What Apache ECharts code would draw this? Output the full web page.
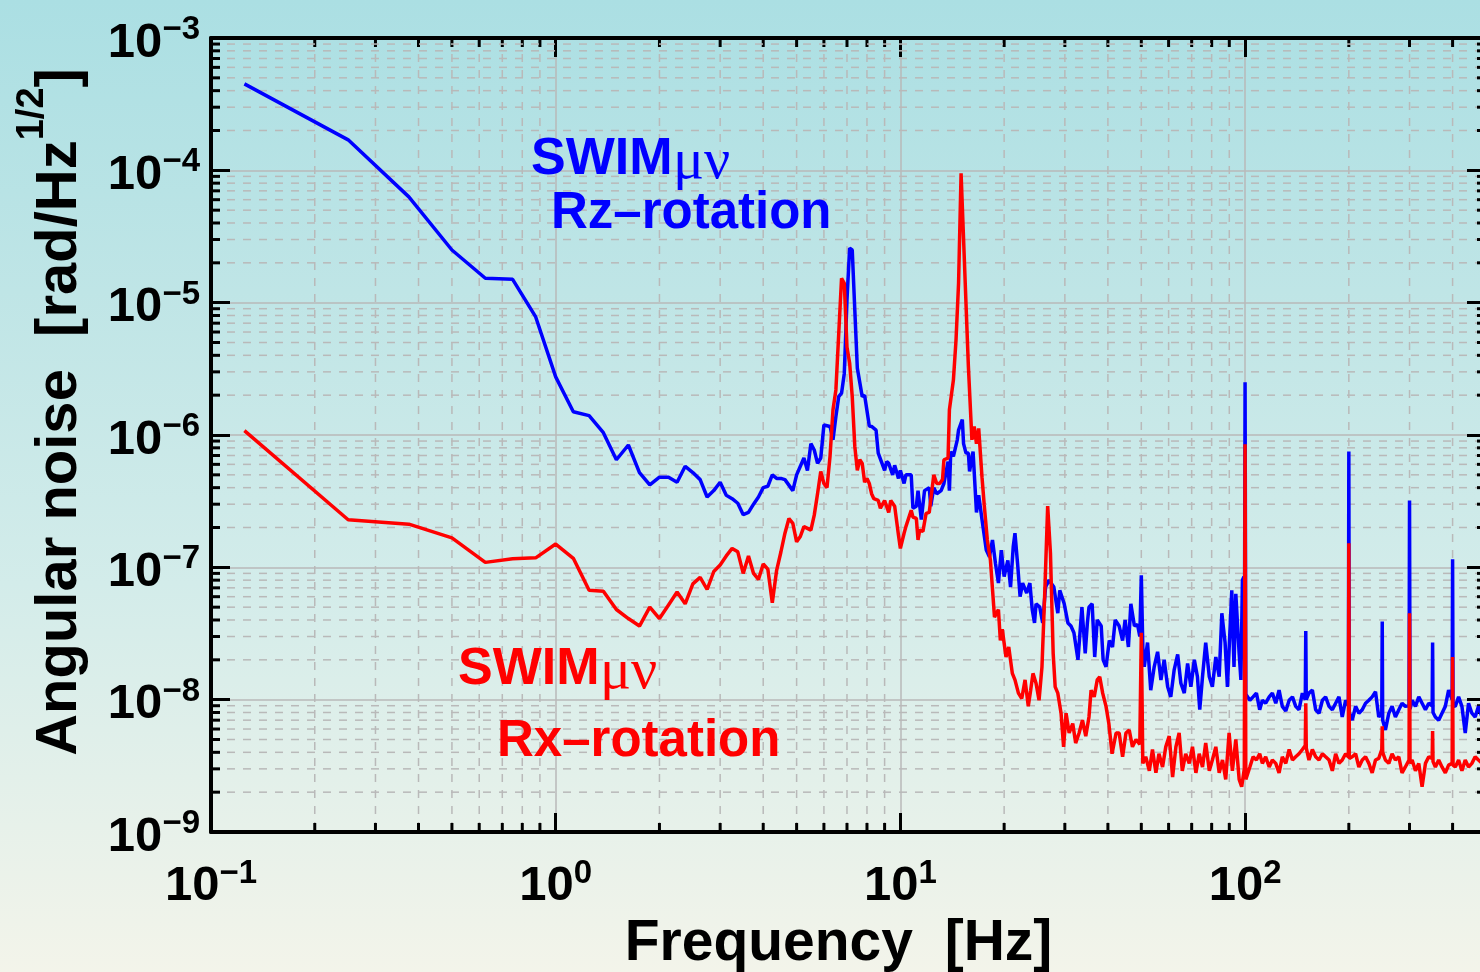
<!DOCTYPE html>
<html>
<head>
<meta charset="utf-8">
<script src="https://cdn.jsdelivr.net/npm/echarts@6/dist/echarts.min.js"></script>
<style>
html,body{margin:0;padding:0;}
#chart{width:1480px;height:972px;background:linear-gradient(180deg,#abdfe3 0%,#bfe5e6 30%,#d3ecea 60%,#f3f4ea 100%);}
</style>
</head>
<body>
<div id="chart"></div>
<script>
// ---- data (frequency [Hz], angular noise [rad/Hz^1/2]) ----
const rzRotation = [
[0.125,4.5e-4],[0.25,1.7e-4],[0.375,6.3e-5],[0.5,2.5e-5],[0.625,1.53e-5],[0.75,1.5e-5],[0.875,7.8e-6],[1.0,2.75e-6],
[1.125,1.5e-6],[1.25,1.4e-6],[1.375,1.04e-6],[1.5,6.5e-7],[1.625,8.4e-7],[1.75,5.2e-7],[1.875,4.2e-7],[2.0,4.8e-7],
[2.125,4.8e-7],[2.25,4.4e-7],[2.375,5.8e-7],[2.5,5.2e-7],[2.625,4.6e-7],[2.75,3.4e-7],[2.875,3.8e-7],[3.0,4.4e-7],
[3.125,3.5e-7],[3.25,3.3e-7],[3.375,3.05e-7],[3.5,2.5e-7],[3.625,2.6e-7],[3.75,3.0e-7],[3.875,3.4e-7],[4.0,4.0e-7],
[4.125,4.1e-7],[4.25,5.0e-7],[4.375,4.7e-7],[4.5,4.7e-7],[4.625,4.6e-7],[4.875,3.8e-7],[5.0,5.0e-7],[5.25,6.7e-7],
[5.375,5.4e-7],[5.5,8.6e-7],[5.625,7.7e-7],[5.75,6.1e-7],[5.875,6.7e-7],[6.0,1.19e-6],[6.25,1.16e-6],[6.375,9.2e-7],
[6.5,1.38e-6],[6.625,1.95e-6],[6.75,2.07e-6],[6.875,2.92e-6],[7.0,1.05e-5],[7.125,2.58e-5],[7.25,2.5e-5],[7.375,8.8e-6],
[7.5,3.2e-6],[7.75,1.95e-6],[7.875,2.0e-6],[8.125,1.17e-6],[8.25,1.16e-6],[8.5,1.09e-6],[8.625,7.3e-7],[9.0,5.4e-7],
[9.125,6.3e-7],[9.25,6.1e-7],[9.5,5.0e-7],[9.625,5.9e-7],[9.875,4.7e-7],[10.0,5.4e-7],[10.25,4.3e-7],[10.375,5.0e-7],
[10.75,5.0e-7],[10.875,2.8e-7],[11.125,2.9e-7],[11.25,3.8e-7],[11.5,2.3e-7],[11.75,3.8e-7],[12.125,4.0e-7],[12.25,2.9e-7],
[12.5,4.0e-7],[12.75,3.6e-7],[13.125,3.8e-7],[13.375,4.3e-7],[13.75,6.3e-7],[13.875,3.8e-7],[14.0,7.5e-7],[14.25,6.9e-7],
[14.625,9.2e-7],[14.75,1.09e-6],[15.125,1.31e-6],[15.25,8.6e-7],[15.5,7.3e-7],[15.75,7.3e-7],[15.875,5.3e-7],[16.25,7.5e-7],
[16.625,2.6e-7],[16.875,3.5e-7],[17.25,2.3e-7],[17.75,1.35e-7],[18.125,1.2e-7],[18.5,1.61e-7],[18.875,1.07e-7],[19.25,7.6e-8],
[19.625,1.35e-7],[20.0,8.5e-8],[20.5,1.13e-7],[20.875,7.1e-8],[21.25,1.43e-7],[21.5,1.81e-7],[21.875,1.07e-7],[22.25,6.0e-8],
[22.625,7.6e-8],[23.25,6.4e-8],[23.75,7.6e-8],[24.125,4.8e-8],[24.5,3.8e-8],[24.75,5.3e-8],[25.375,5.0e-8],[25.875,3.8e-8],
[26.375,7.1e-8],[27.0,8.0e-8],[27.875,7.1e-8],[28.625,4.5e-8],[29.0,6.7e-8],[29.875,5.3e-8],[30.625,3.8e-8],[31.25,3.6e-8],
[31.875,3.2e-8],[32.75,2.0e-8],[33.625,5.0e-8],[34.375,2.24e-8],[34.875,3.8e-8],[35.25,5.0e-8],[36.0,5.3e-8],[36.625,2.1e-8],
[37.25,4.0e-8],[38.25,3.6e-8],[38.75,2.0e-8],[39.5,1.77e-8],[40.375,2.8e-8],[41.25,2.5e-8],[42.0,4.0e-8],[43.125,3.6e-8],
[44.125,2.8e-8],[44.875,4.0e-8],[45.875,2.5e-8],[46.625,5.3e-8],[47.75,3.6e-8],[48.75,3.7e-8],[49.5,3.0e-8],[50.0,8.7e-8],
[50.5,2.5e-8],[51.0,1.77e-8],[52.125,2.7e-8],[53.25,1.18e-8],[54.5,1.77e-8],[55.75,2.3e-8],[57.0,1.41e-8],[58.25,2.0e-8],
[59.625,1.25e-8],[60.875,1.05e-8],[62.25,1.67e-8],[63.75,2.2e-8],[65.125,1.33e-8],[66.625,1.12e-8],[68.125,1.88e-8],[69.625,1.25e-8],
[71.25,2.0e-8],[72.75,1.49e-8],[73.875,8.4e-9],[75.25,1.49e-8],[76.875,2.7e-8],[78.75,1.49e-8],[80.375,1.25e-8],[82.25,2.1e-8],
[84.125,1.49e-8],[85.625,4.5e-8],[87.5,2.7e-8],[88.875,1.25e-8],[91.5,6.7e-8],[92.875,1.77e-8],[94.0,6.3e-8],[96.125,2.24e-8],
[97.25,1.41e-8],[98.25,8.0e-8],[99.25,8.5e-8],[99.625,4.0e-8],[100.0,2.5e-6],[100.5,1.1e-8],
[103.25,9.9e-9],[105.5,1.05e-8],[107.875,1.12e-8],[110.25,8.4e-9],[112.25,9.9e-9],[114.75,9.4e-9],[117.5,1.05e-8],[120.0,1.12e-8],
[122.75,9.4e-9],[125.5,1.18e-8],[128.25,8.9e-9],[131.25,8.2e-9],[134.25,9.9e-9],[137.25,1.05e-8],[140.25,8.9e-9],[143.375,8.4e-9],
[146.625,1.12e-8],[149.5,1.0e-8],[150.0,3.3e-8],[150.5,1.0e-8],[153.25,1.12e-8],[156.75,1.18e-8],[160.25,8.4e-9],[163.875,7.9e-9],
[167.625,9.9e-9],[171.25,1.05e-8],[175.25,8.9e-9],[179.125,8.4e-9],[183.125,9.4e-9],[187.25,1.05e-8],[191.375,7.4e-9],[195.75,9.9e-9],
[199.375,9.0e-9],[200.0,7.5e-7],[200.625,8.0e-9],[204.625,7.0e-9],[209.25,8.9e-9],[213.875,7.9e-9],[218.75,8.4e-9],[223.625,9.4e-9],
[228.625,9.9e-9],[233.75,1.05e-8],[239.0,1.15e-8],[244.25,7.4e-9],[249.25,8.0e-9],[250.0,3.9e-8],[250.75,7.0e-9],[255.375,5.9e-9],
[261.25,7.9e-9],[267.0,8.9e-9],[273.0,7.4e-9],[279.25,8.4e-9],[285.375,9.4e-9],[291.75,8.9e-9],[299.0,9.0e-9],[300.0,3.2e-7],
[301.0,8.5e-9],[305.25,9.9e-9],[312.125,8.9e-9],[319.125,1.05e-8],[326.25,9.4e-9],[333.625,8.4e-9],[341.125,9.4e-9],[349.0,9.0e-9],
[350.0,2.7e-8],[351.0,8.0e-9],[356.5,7.4e-9],[364.5,7.0e-9],[372.625,7.9e-9],[381.0,8.9e-9],[389.5,1.18e-8],[398.75,1.0e-8],
[400.0,1.15e-7],[401.25,9.0e-9],[407.25,8.9e-9],[416.375,1.05e-8],[425.75,8.9e-9],[435.25,5.6e-9],[445.0,9.4e-9],[455.0,7.9e-9],
[465.125,7.4e-9],[475.5,8.9e-9],[487.5,7.3e-9],[500.0,7.5e-9]
];

const rxRotation = [
[0.125,1.08e-6],[0.25,2.29e-7],[0.375,2.12e-7],[0.5,1.67e-7],[0.625,1.09e-7],[0.75,1.16e-7],[0.875,1.18e-7],[1.0,1.5e-7],
[1.125,1.17e-7],[1.25,6.7e-8],[1.375,6.6e-8],[1.5,4.8e-8],[1.625,4.1e-8],[1.75,3.6e-8],[1.875,5.0e-8],[2.0,4.1e-8],
[2.125,5.2e-8],[2.25,6.5e-8],[2.375,5.3e-8],[2.5,7.5e-8],[2.625,8.4e-8],[2.75,6.8e-8],[2.875,9.3e-8],[3.0,1.04e-7],
[3.125,1.22e-7],[3.25,1.39e-7],[3.375,1.31e-7],[3.5,9.0e-8],[3.625,1.22e-7],[3.75,9.0e-8],[3.875,8.1e-8],[4.0,1.06e-7],
[4.125,9.7e-8],[4.25,5.4e-8],[4.375,9.5e-8],[4.5,1.3e-7],[4.625,1.81e-7],[4.75,2.34e-7],[4.875,2.15e-7],[5.0,1.56e-7],
[5.125,1.71e-7],[5.25,2.03e-7],[5.5,1.91e-7],[5.625,2.48e-7],[5.75,3.6e-7],[5.875,5.3e-7],[6.0,4.3e-7],[6.125,4.0e-7],
[6.25,6.9e-7],[6.375,1.55e-6],[6.5,2.19e-6],[6.75,1.53e-5],[6.875,1.4e-5],[7.0,4.6e-6],[7.125,3.5e-6],[7.25,1.95e-6],
[7.375,8.2e-7],[7.5,5.4e-7],[7.625,6.5e-7],[7.75,6.1e-7],[7.875,4.4e-7],[8.0,4.7e-7],[8.125,4.3e-7],[8.25,3.6e-7],
[8.375,3.3e-7],[8.625,3.2e-7],[8.75,2.8e-7],[9.0,3.2e-7],[9.25,2.6e-7],[9.375,3.2e-7],[9.625,2.9e-7],[9.875,1.75e-7],
[10.0,1.39e-7],[10.25,1.81e-7],[10.375,2.03e-7],[10.75,2.7e-7],[10.875,2.4e-7],[11.125,2.34e-7],[11.25,1.61e-7],[11.375,1.91e-7],
[11.625,1.87e-7],[11.875,2.56e-7],[12.125,2.6e-7],[12.25,2.56e-7],[12.5,5.0e-7],[12.75,4.3e-7],[13.0,4.3e-7],[13.25,4.6e-7],
[13.375,6.5e-7],[13.75,6.7e-7],[13.875,1.55e-6],[14.25,2.6e-6],[14.5,5.2e-6],[14.75,1.4e-5],[15.0,9.5e-5],[15.125,9.5e-5],
[15.5,9.9e-6],[15.75,3.3e-6],[16.125,9.2e-7],[16.375,1.16e-6],[16.625,8.6e-7],[16.875,1.12e-6],[17.25,4.8e-7],[17.5,3.0e-7],
[17.875,1.61e-7],[18.25,1.13e-7],[18.75,4.2e-8],[19.25,4.8e-8],[19.5,2.8e-8],[19.75,3.4e-8],[20.25,2.1e-8],[20.625,2.5e-8],
[21.125,1.58e-8],[21.5,1.41e-8],[22.0,1.12e-8],[22.5,1.02e-8],[23.0,1.41e-8],[23.5,8.9e-9],[23.875,1.18e-8],[24.25,1.58e-8],
[24.75,1.33e-8],[25.25,9.9e-9],[25.75,1.77e-8],[26.25,6.7e-8],[26.75,2.9e-7],[27.25,1.28e-7],[27.75,2.24e-8],[28.125,1.25e-8],
[28.625,1.12e-8],[29.25,7.9e-9],[29.75,4.4e-9],[30.25,7.9e-9],[30.875,5.6e-9],[31.625,6.6e-9],[32.25,4.7e-9],[33.0,5.6e-9],
[33.75,7.0e-9],[34.5,5.3e-9],[35.25,7.4e-9],[35.75,1.18e-8],[36.5,1.05e-8],[37.25,1.41e-8],[37.875,1.49e-8],[38.625,1.12e-8],
[39.5,8.9e-9],[40.25,6.6e-9],[41.125,3.9e-9],[42.25,5.6e-9],[43.125,5.6e-9],[44.125,3.7e-9],[45.125,5.6e-9],[46.125,5.9e-9],
[47.125,4.4e-9],[48.25,5.0e-9],[49.5,4.6e-9],[50.0,3.2e-8],[50.5,3.3e-9],[51.5,3.7e-9],[52.75,2.9e-9],[53.875,4.2e-9],
[55.125,2.8e-9],[56.25,3.9e-9],[57.625,3.1e-9],[58.875,4.4e-9],[60.25,5.3e-9],[61.625,2.6e-9],[63.0,4.4e-9],[64.375,5.6e-9],
[65.75,2.9e-9],[67.25,3.9e-9],[68.875,3.3e-9],[70.375,4.4e-9],[72.0,2.8e-9],[73.625,3.9e-9],[75.25,3.1e-9],[76.875,4.7e-9],
[78.75,2.9e-9],[80.375,3.5e-9],[82.25,4.4e-9],[84.125,2.8e-9],[86.0,3.5e-9],[87.875,2.5e-9],[89.875,5.6e-9],[91.875,2.9e-9],
[94.0,5.0e-9],[96.125,2.5e-9],[97.75,2.2e-9],[99.5,3.0e-9],[100.0,8.5e-7],[100.5,2.5e-9],
[103.25,3.1e-9],[105.5,3.7e-9],[107.875,3.5e-9],[110.25,3.9e-9],[112.25,3.3e-9],[114.75,3.7e-9],[117.5,3.1e-9],[120.0,3.5e-9],
[122.75,3.3e-9],[125.5,2.8e-9],[128.25,3.7e-9],[131.25,3.3e-9],[134.25,4.2e-9],[137.25,3.5e-9],[140.25,3.7e-9],[143.375,3.9e-9],
[146.625,4.2e-9],[149.5,4.5e-9],[150.0,9.4e-9],[150.5,4.3e-9],[153.25,3.5e-9],[156.75,4.2e-9],[160.25,3.7e-9],[163.875,3.5e-9],
[167.625,3.9e-9],[171.25,3.7e-9],[175.25,3.5e-9],[179.125,2.9e-9],[183.125,3.9e-9],[187.25,3.3e-9],[191.375,3.5e-9],[195.75,3.9e-9],
[199.375,3.7e-9],[200.0,1.52e-7],[200.625,3.6e-9],[204.625,3.7e-9],[209.25,3.9e-9],[213.875,3.1e-9],[218.75,3.5e-9],[223.625,3.7e-9],
[228.625,3.3e-9],[233.75,2.8e-9],[239.0,3.5e-9],[244.25,3.6e-9],[249.25,4.2e-9],[250.0,6.3e-9],[250.75,4.0e-9],[255.375,3.5e-9],
[261.25,3.3e-9],[267.0,3.9e-9],[273.0,3.5e-9],[279.25,3.7e-9],[285.375,2.8e-9],[291.75,3.1e-9],[299.0,3.5e-9],[300.0,4.5e-8],
[301.0,3.3e-9],[305.25,3.5e-9],[312.125,2.9e-9],[319.125,3.3e-9],[326.25,2.2e-9],[333.625,3.3e-9],[341.125,3.7e-9],[349.0,3.6e-9],
[350.0,5.8e-9],[351.0,3.4e-9],[356.5,3.1e-9],[364.5,3.5e-9],[372.625,3.1e-9],[381.0,2.8e-9],[389.5,3.2e-9],[398.75,3.3e-9],
[400.0,2.1e-8],[401.25,3.2e-9],[407.25,3.1e-9],[416.375,3.5e-9],[425.75,2.9e-9],[435.25,3.5e-9],[445.0,3.1e-9],[455.0,3.3e-9],
[465.125,3.7e-9],[475.5,3.5e-9],[487.5,3.3e-9],[500.0,3.3e-9]
];

const xRange = [0.1, 500];
const yRange = [1e-9, 1e-3];
const minorMultipliers = [2, 3, 4, 5, 6, 7, 8, 9];
const xTitle = 'Frequency  [Hz]';
const yTitleMain = 'Angular noise  [rad/Hz';
const yTitleSup = '1/2';
const labelBlue = ['SWIM', 'μν', 'Rz–rotation'];
const labelRed = ['SWIM', 'μν', 'Rx–rotation'];

const SANS = '"Liberation Sans", Arial, Helvetica, sans-serif';
const SERIF = '"Liberation Serif", "Times New Roman", serif';
const BLUE = '#0000ff';
const RED = '#ff0000';

function minorValues(lo, hi) {
  const out = [];
  for (let e = Math.floor(Math.log10(lo)); e <= Math.ceil(Math.log10(hi)); e++) {
    for (const m of minorMultipliers) {
      const v = m * Math.pow(10, e);
      if (v > lo * 1.0001 && v < hi * 0.9999) out.push(v);
    }
  }
  return out;
}
const minorData = minorValues(xRange[0], xRange[1]).map(v => [v, 1e-6, 0])
  .concat(minorValues(yRange[0], yRange[1]).map(v => [1, v, 1]));

function powLabel(value) {
  const e = Math.round(Math.log10(value));
  const s = e < 0 ? '\u2212' + (-e) : String(e);
  return '{b|10}{s|' + s + '}';
}
const labelRich = {
  b: { fontSize: 49, fontWeight: 'bold', fontFamily: SANS, color: '#000', lineHeight: 49, padding: [10, 0, 0, 0] },
  s: { fontSize: 33, fontWeight: 'bold', fontFamily: SANS, color: '#000', lineHeight: 33, verticalAlign: 'top' }
};

const gridLineColor = '#b9b9b9';
const chart = echarts.init(document.getElementById('chart'), null, { renderer: 'canvas' });

const option = {
  animation: false,
  backgroundColor: 'transparent',
  grid: { left: 211, top: 38, width: 1275, height: 794, containLabel: false, outerBoundsMode: 'none' },
  xAxis: [
    {
      type: 'log', logBase: 10, min: xRange[0], max: xRange[1], position: 'bottom',
      axisLine: { show: true, lineStyle: { color: '#000', width: 4 } },
      axisTick: { show: true, inside: true, length: 19, lineStyle: { color: '#000', width: 3 } },
      axisLabel: { show: true, formatter: powLabel, rich: labelRich, margin: 25, showMaxLabel: false, hideOverlap: false },
      splitLine: { show: true, lineStyle: { color: gridLineColor, width: 1.5 } },
      minorTick: { show: false }, minorSplitLine: { show: false },
      name: xTitle, nameLocation: 'middle', nameGap: 76,
      nameTextStyle: { fontSize: 57, fontWeight: 'bold', fontFamily: SANS, color: '#000', padding: [0, 20, 0, 0] }
    },
    {
      type: 'log', logBase: 10, min: xRange[0], max: xRange[1], position: 'top',
      axisLine: { show: true, lineStyle: { color: '#000', width: 4 } },
      axisTick: { show: true, inside: true, length: 19, lineStyle: { color: '#000', width: 3 } },
      axisLabel: { show: false }, splitLine: { show: false }
    }
  ],
  yAxis: [
    {
      type: 'log', logBase: 10, min: yRange[0], max: yRange[1], position: 'left',
      axisLine: { show: true, lineStyle: { color: '#000', width: 4 } },
      axisTick: { show: true, inside: true, length: 19, lineStyle: { color: '#000', width: 3 } },
      axisLabel: { show: true, formatter: powLabel, rich: labelRich, margin: 11, hideOverlap: false },
      splitLine: { show: true, lineStyle: { color: gridLineColor, width: 1.5 } },
      name: '{t|' + yTitleMain + '}{u|' + yTitleSup + '}{t|]}',
      nameLocation: 'middle', nameRotate: 90, nameGap: 139,
      nameTextStyle: {
        padding: [0, 0, 0, 46],
        rich: {
          t: { fontSize: 58, fontWeight: 'bold', fontFamily: SANS, color: '#000', lineHeight: 58, padding: [34, 0, 0, 0] },
          u: { fontSize: 38, fontWeight: 'bold', fontFamily: SANS, color: '#000', lineHeight: 38, verticalAlign: 'top' }
        }
      }
    },
    {
      type: 'log', logBase: 10, min: yRange[0], max: yRange[1], position: 'right',
      axisLine: { show: true, lineStyle: { color: '#000', width: 4 } },
      axisTick: { show: true, inside: true, length: 19, lineStyle: { color: '#000', width: 3 } },
      axisLabel: { show: false }, splitLine: { show: false }
    }
  ],
  graphic: [
    { type: 'text', x: 531, y: 160, z: 10, style: { text: labelBlue[0], fill: BLUE, font: 'bold 52px ' + SANS, verticalAlign: 'middle', align: 'left' } },
    { type: 'text', x: 673, y: 163, z: 10, style: { text: labelBlue[1], fill: BLUE, font: 'normal 58px ' + SERIF, verticalAlign: 'middle', align: 'left' } },
    { type: 'text', x: 551, y: 214, z: 10, style: { text: labelBlue[2], fill: BLUE, font: 'bold 51px ' + SANS, verticalAlign: 'middle', align: 'left' } },
    { type: 'text', x: 458, y: 670, z: 10, style: { text: labelRed[0], fill: RED, font: 'bold 52px ' + SANS, verticalAlign: 'middle', align: 'left' } },
    { type: 'text', x: 600, y: 673, z: 10, style: { text: labelRed[1], fill: RED, font: 'normal 58px ' + SERIF, verticalAlign: 'middle', align: 'left' } },
    { type: 'text', x: 497, y: 742, z: 10, style: { text: labelRed[2], fill: RED, font: 'bold 51px ' + SANS, verticalAlign: 'middle', align: 'left' } }
  ],
  series: [
    {
      type: 'custom', name: 'minor', xAxisIndex: 0, yAxisIndex: 0, z: 1, silent: true, clip: false,
      encode: { x: 0, y: 1 },
      data: minorData,
      renderItem: function (params, api) {
        const cs = params.coordSys;
        const L = cs.x, R = cs.x + cs.width, T = cs.y, B = cs.y + cs.height;
        const dash = { stroke: gridLineColor, lineWidth: 1.5, lineDash: [8, 8] };
        const tick = { stroke: '#000', lineWidth: 3 };
        if (api.value(2) === 0) {
          const x = api.coord([api.value(0), 1e-6])[0];
          return { type: 'group', children: [
            { type: 'line', shape: { x1: x, y1: T, x2: x, y2: B }, style: dash },
            { type: 'line', shape: { x1: x, y1: B, x2: x, y2: B - 9 }, style: tick },
            { type: 'line', shape: { x1: x, y1: T, x2: x, y2: T + 9 }, style: tick }
          ] };
        }
        const y = api.coord([1, api.value(1)])[1];
        return { type: 'group', children: [
          { type: 'line', shape: { x1: L, y1: y, x2: R, y2: y }, style: dash },
          { type: 'line', shape: { x1: L, y1: y, x2: L + 9, y2: y }, style: tick },
          { type: 'line', shape: { x1: R, y1: y, x2: R - 9, y2: y }, style: tick }
        ] };
      }
    },
    {
      type: 'line', name: 'Rz-rotation', data: rzRotation, xAxisIndex: 0, yAxisIndex: 0, z: 3,
      showSymbol: false, symbol: 'none', sampling: null,
      lineStyle: { color: BLUE, width: 3.5 }, itemStyle: { color: BLUE }
    },
    {
      type: 'line', name: 'Rx-rotation', data: rxRotation, xAxisIndex: 0, yAxisIndex: 0, z: 4,
      showSymbol: false, symbol: 'none', sampling: null,
      lineStyle: { color: RED, width: 3.5 }, itemStyle: { color: RED }
    }
  ]
};
chart.setOption(option);
</script>
</body>
</html>
